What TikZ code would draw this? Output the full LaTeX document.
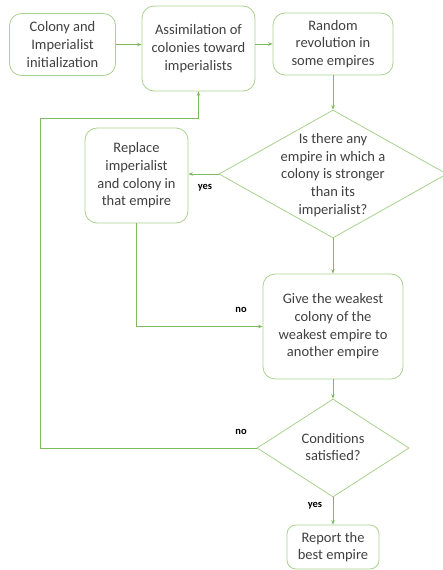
\documentclass[tikz,border=0pt]{standalone}
\usepackage{fontspec}
\setmainfont{Carlito}
\usetikzlibrary{shapes.geometric,arrows.meta}
\definecolor{boxgreen}{HTML}{A9D18E}
\definecolor{linegreen}{HTML}{7FBA5C}
\definecolor{txtgray}{HTML}{404040}
\begin{document}
\begin{tikzpicture}[x=1pt,y=-1pt,
  box/.style={draw=boxgreen,line width=0.8pt,rounded corners=12pt,inner sep=0pt,align=center,text=txtgray,font=\fontsize{14.5}{17.7}\selectfont},
  dia/.style={draw=boxgreen,line width=0.8pt,diamond,inner sep=0pt},
  txt/.style={align=center,text=txtgray,font=\fontsize{14.5}{17.7}\selectfont},
  lab/.style={font=\fontsize{10.5}{12}\selectfont\bfseries,text=black},
  conn/.style={draw=linegreen,line width=0.8pt},
  arr/.style={conn,-{Stealth[length=4.5pt,width=3.5pt]}}]
\useasboundingbox (0,0) rectangle (442,570);
\node[box,minimum width=106pt,minimum height=62pt] (b1) at (62.5,44.5) {Colony and\\Imperialist\\initialization};
\node[box,minimum width=113pt,minimum height=85pt] (b2) at (198.5,48.5) {Assimilation of\\colonies toward\\imperialists};
\node[box,minimum width=120pt,minimum height=62pt] (b3) at (333,44) {Random\\revolution in\\some empires};
\node[dia,minimum width=228pt,minimum height=128pt] (d1) at (333,174) {};
\node[txt] (d1t) at (333,175) {Is there any\\empire in which a\\colony is stronger\\than its\\imperialist?};
\node[box,minimum width=103pt,minimum height=95pt] (r) at (136.5,175.5) {Replace\\imperialist\\and colony in\\that empire};
\node[box,minimum width=140pt,minimum height=105pt] (g) at (333,326.5) {Give the weakest\\colony of the\\weakest empire to\\another empire};
\node[dia,minimum width=152pt,minimum height=98pt] (d2) at (333,448) {};
\node[txt] (d2t) at (333,447) {Conditions\\satisfied?};
\node[box,rounded corners=9pt,minimum width=92pt,minimum height=44pt] (rep) at (333,547) {Report the\\best empire};
\coordinate (la) at (40,448);
\coordinate (lb) at (40,118);
\draw[arr] (b1.east) -- (b1.east -| b2.west);
\draw[arr] (b2.east |- b3.west) -- (b3.west);
\draw[arr] (b3.south) -- (d1.north);
\draw[arr] (d1.west) -- (d1.west -| r.east);
\draw[arr] (r.south) |- (g.west);
\draw[arr] (d1.south) -- (g.north);
\draw[arr] (g.south) -- (d2.north);
\draw[arr] (d2.west) -- (la) -- (lb) -| (b2.south);
\draw[arr] (d2.south) -- (rep.north);
\node[lab] (ly1) at (205,188) {yes};
\node[lab] (ln1) at (241,310) {no};
\node[lab] (ln2) at (241,432) {no};
\node[lab] (ly2) at (315,506) {yes};
\end{tikzpicture}
\end{document}
